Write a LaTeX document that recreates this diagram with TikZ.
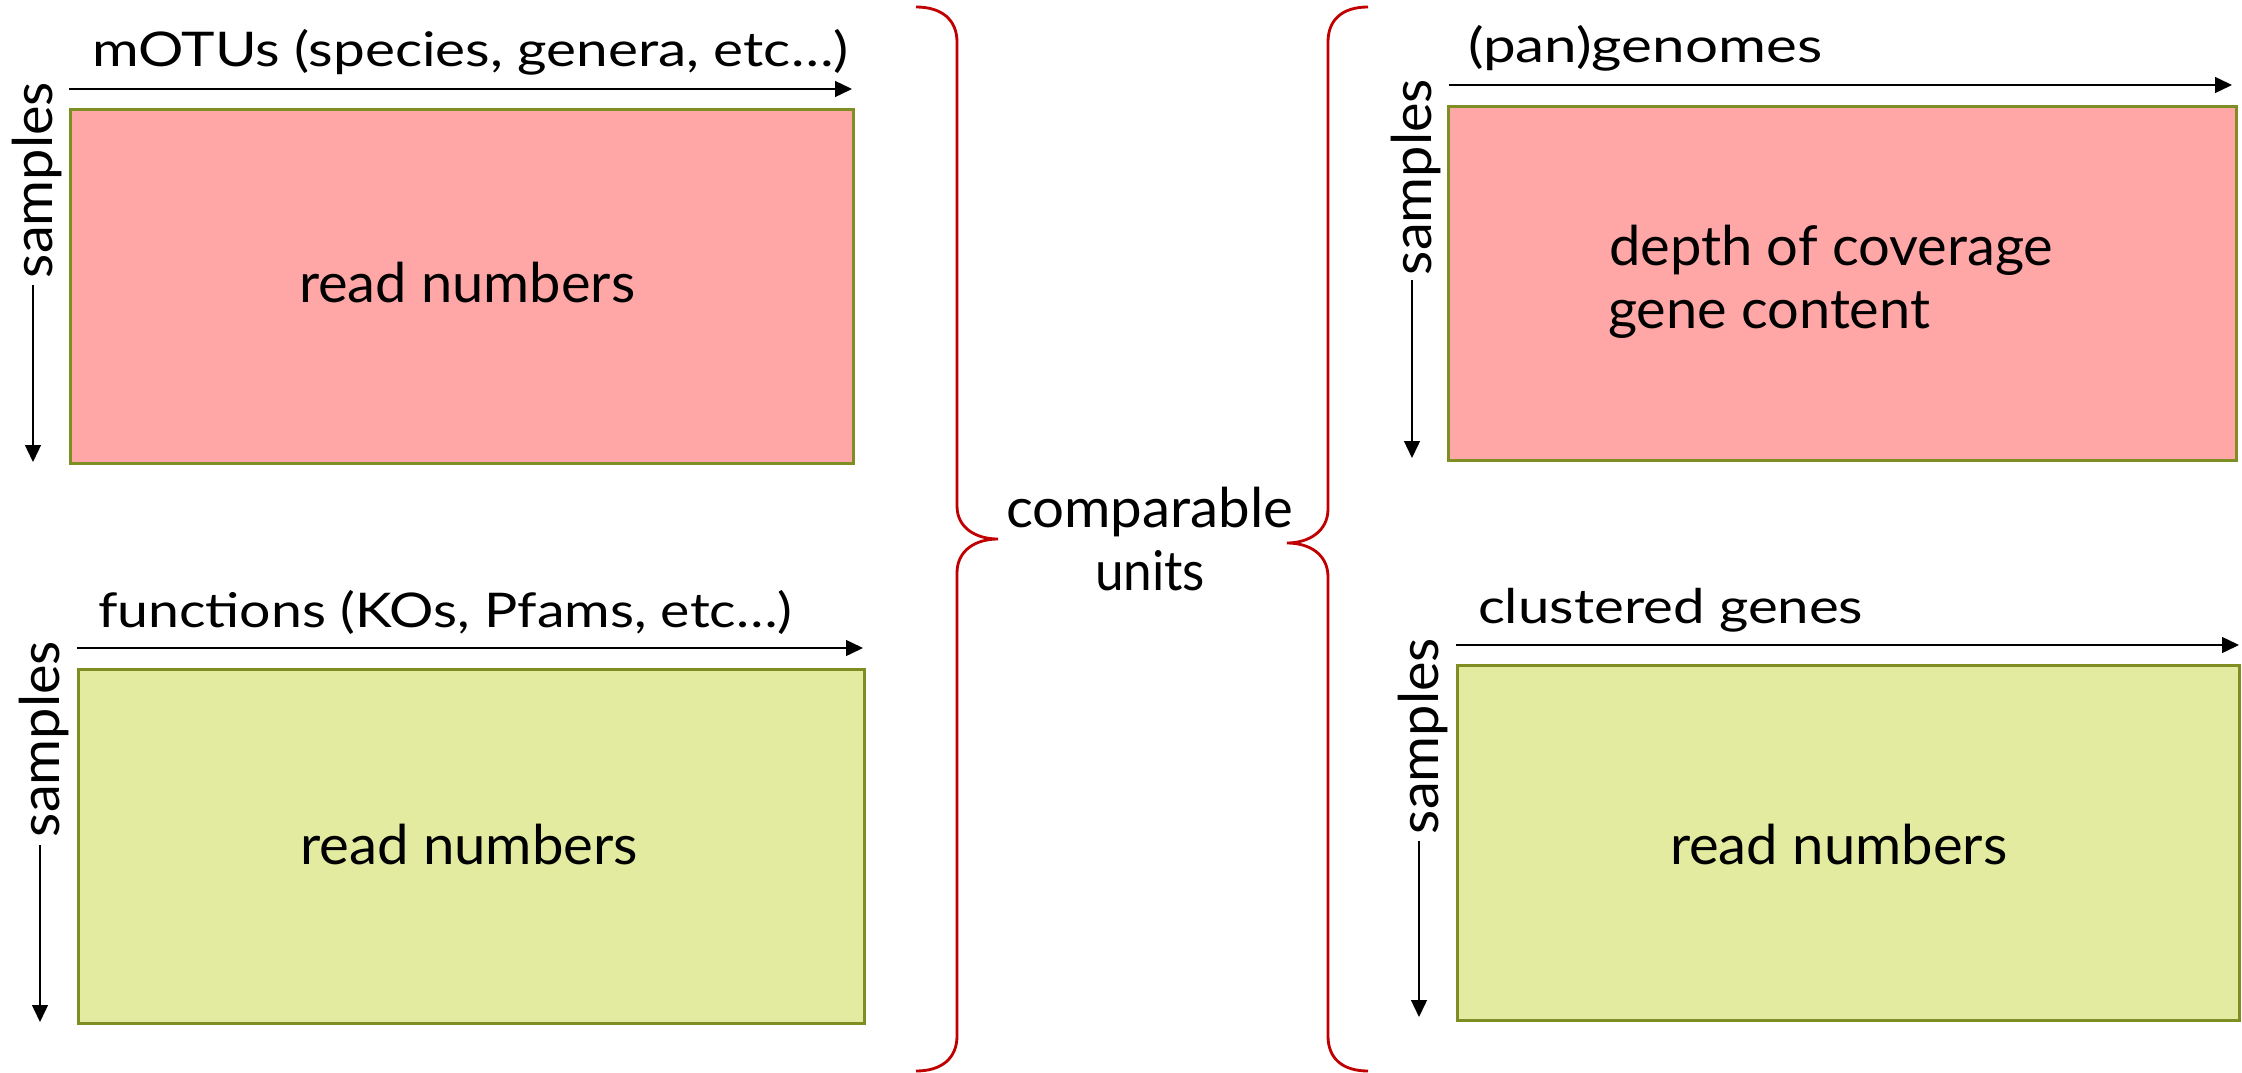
\documentclass[tikz,border=0pt]{standalone}
\usepackage{fontspec}
\usepackage{graphicx}
\setmainfont{Lato}
\usetikzlibrary{arrows.meta}
\definecolor{pinkfill}{HTML}{FFA7A7}
\definecolor{greenfill}{HTML}{E3EBA0}
\definecolor{olive}{HTML}{7E8E22}
\definecolor{bracered}{HTML}{C00000}
\newcommand{\fitw}[2]{\resizebox{#1}{\height}{#2}}
\newcommand{\titlefont}{\fontsize{13.6pt}{16pt}\selectfont}
\newcommand{\bodyfont}{\fontsize{15.6pt}{19pt}\selectfont}
\tikzset{
  matbox/.style={draw=olive, line width=0.8pt, inner sep=0pt, anchor=north west},
  pinkbox/.style={matbox, fill=pinkfill},
  greenbox/.style={matbox, fill=greenfill},
  axisarrow/.style={draw=black, line width=0.45pt, -{Triangle[length=4.8pt,width=4.5pt]}},
  lbl/.style={inner sep=0pt, outer sep=0pt, anchor=base west, text=black},
  vlbl/.style={lbl, rotate=90},
  brace/.style={draw=bracered, line width=0.8pt}
}
\begin{document}
\begin{tikzpicture}[x=0.01cm, y=-0.01cm]
\useasboundingbox (0,0) rectangle (2242,1073);

% ---------- top left ----------
\node[pinkbox, minimum width=7.83cm, minimum height=3.54cm] (tlbox) at (69,108) {};
\coordinate (tlh1) at (69,89); \coordinate (tlh2) at (852,89);
\draw[axisarrow] (tlh1) -- (tlh2);
\coordinate (tlv1) at (33,285); \coordinate (tlv2) at (33,462);
\draw[axisarrow] (tlv1) -- (tlv2);
\node[lbl] (tltitle) at (92,67) {\titlefont\fitw{7.56cm}{mOTUs (species, genera, etc…)}};
\node[vlbl] (tlsamples) at (52,278) {\bodyfont\fitw{1.96cm}{samples}};
\node[lbl] (tltext) at (299,302) {\bodyfont\fitw{3.36cm}{read numbers}};

% ---------- bottom left ----------
\node[greenbox, minimum width=7.86cm, minimum height=3.54cm] (blbox) at (77,668) {};
\coordinate (blh1) at (77,648); \coordinate (blh2) at (863,648);
\draw[axisarrow] (blh1) -- (blh2);
\coordinate (blv1) at (40,845); \coordinate (blv2) at (40,1022);
\draw[axisarrow] (blv1) -- (blv2);
\node[lbl] (bltitle) at (98,627) {\titlefont\fitw{6.94cm}{functions (KOs, Pfams, etc…)}};
\node[vlbl] (blsamples) at (60,837) {\bodyfont\fitw{1.96cm}{samples}};
\node[lbl] (bltext) at (300,864) {\bodyfont\fitw{3.38cm}{read numbers}};

% ---------- top right ----------
\node[pinkbox, minimum width=7.88cm, minimum height=3.54cm] (trbox) at (1447,105) {};
\coordinate (trh1) at (1449,85); \coordinate (trh2) at (2232,85);
\draw[axisarrow] (trh1) -- (trh2);
\coordinate (trv1) at (1412,280); \coordinate (trv2) at (1412,458);
\draw[axisarrow] (trv1) -- (trv2);
\node[lbl] (trtitle) at (1468,63) {\titlefont\fitw{3.54cm}{(pan)genomes}};
\node[vlbl] (trsamples) at (1431,275) {\bodyfont\fitw{1.96cm}{samples}};
\node[lbl] (trtext1) at (1609,265) {\bodyfont\fitw{4.44cm}{depth of coverage}};
\node[lbl] (trtext2) at (1608,328) {\bodyfont\fitw{3.22cm}{gene content}};

% ---------- bottom right ----------
\node[greenbox, minimum width=7.82cm, minimum height=3.55cm] (brbox) at (1456,664) {};
\coordinate (brh1) at (1456,645); \coordinate (brh2) at (2239,645);
\draw[axisarrow] (brh1) -- (brh2);
\coordinate (brv1) at (1419,841); \coordinate (brv2) at (1419,1017);
\draw[axisarrow] (brv1) -- (brv2);
\node[lbl] (brtitle) at (1478,623) {\titlefont\fitw{3.85cm}{clustered genes}};
\node[vlbl] (brsamples) at (1438,834) {\bodyfont\fitw{1.96cm}{samples}};
\node[lbl] (brtext) at (1670,864) {\bodyfont\fitw{3.37cm}{read numbers}};

% ---------- centre ----------
\node[lbl] (comp1) at (1006,527) {\bodyfont\fitw{2.87cm}{comparable}};
\node[lbl] (comp2) at (1095,590) {\bodyfont\fitw{1.10cm}{units}};

% left brace  }
\draw[brace] (916,7) .. controls (942,7) and (957,20) .. (957,42)
  -- (957,506) .. controls (957,528) and (976,539) .. (998,539)
  .. controls (976,539) and (957,550) .. (957,573)
  -- (957,1036) .. controls (957,1058) and (942,1071) .. (916,1071);
% right brace {
\draw[brace] (1368,7) .. controls (1342,7) and (1328,20) .. (1328,42)
  -- (1328,509) .. controls (1328,531) and (1309,543) .. (1287,543)
  .. controls (1309,543) and (1328,554) .. (1328,577)
  -- (1328,1036) .. controls (1328,1058) and (1342,1071) .. (1368,1071);
\end{tikzpicture}
\end{document}
